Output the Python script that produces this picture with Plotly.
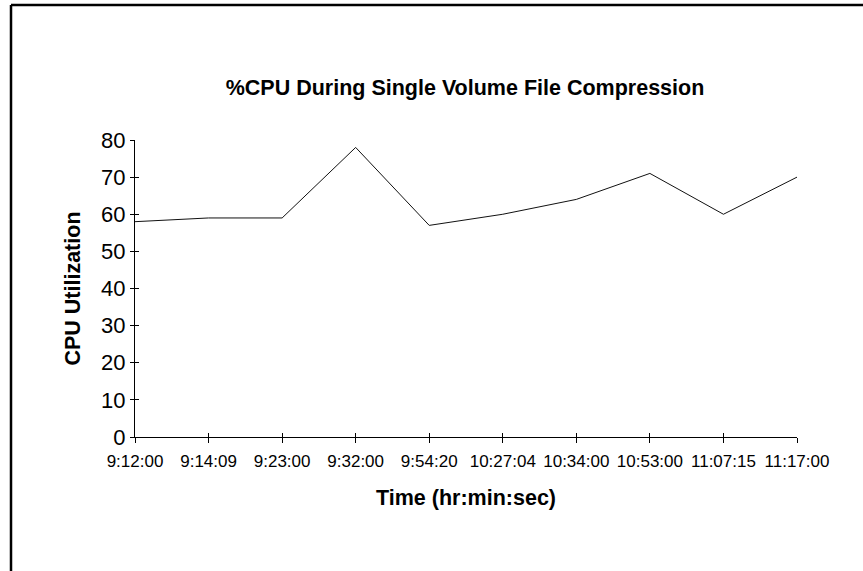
import plotly.graph_objects as go

times = ["9:12:00", "9:14:09", "9:23:00", "9:32:00", "9:54:20",
         "10:27:04", "10:34:00", "10:53:00", "11:07:15", "11:17:00"]
cpu = [58, 59, 59, 78, 57, 60, 64, 71, 60, 70]
y_ticks = [0, 10, 20, 30, 40, 50, 60, 70, 80]

W, H = 863, 571
L, R, T, B = 135, 797, 140, 437

def px_to_paper_x(px):
    return (px - L) / (R - L)

def px_to_paper_y(py):
    return (B - py) / (B - T)

FONT = "Liberation Sans, Arial, sans-serif"

fig = go.Figure()
fig.add_trace(go.Scatter(x=list(range(len(times))), y=cpu, mode="lines",
                         line=dict(color="#111111", width=1), showlegend=False,
                         hoverinfo="skip"))
# invisible trace on overlay axes for inside tick marks
fig.add_trace(go.Scatter(x=list(range(len(times))), y=cpu, mode="lines",
                         line=dict(color="rgba(0,0,0,0)", width=0), showlegend=False,
                         xaxis="x2", yaxis="y2", hoverinfo="skip"))

fig.update_layout(
    width=W, height=H,
    margin=dict(l=L, r=W - R, t=T, b=H - B),
    paper_bgcolor="white", plot_bgcolor="white",
    font=dict(family=FONT, color="black"),
    title=dict(text="<b>%CPU During Single Volume File Compression</b>",
               font=dict(size=21.5, family=FONT, color="black"),
               x=px_to_paper_x(465), xref="paper", xanchor="center",
               y=1 - 87 / H, yref="container", yanchor="middle"),
    xaxis=dict(range=[0, len(times) - 1], tickmode="array",
               tickvals=list(range(len(times))), ticktext=times,
               showgrid=False, zeroline=False, showline=True, linecolor="black",
               linewidth=1, ticks="outside", ticklen=5, tickcolor="black",
               ticklabelstandoff=4,
               tickfont=dict(size=17, family=FONT, color="black"),
               title=dict(text="<b>Time (hr:min:sec)</b>",
                          font=dict(size=21.5, family=FONT, color="black"),
                          standoff=19)),
    yaxis=dict(range=[0, 80], tickmode="array", tickvals=y_ticks,
               showgrid=False, zeroline=False, showline=True, linecolor="black",
               linewidth=1, ticks="outside", ticklen=4, tickcolor="black",
               tickfont=dict(size=22, family=FONT, color="black"),
               title=dict(text="<b>CPU Utilization</b>",
                          font=dict(size=21.5, family=FONT, color="black"),
                          standoff=14)),
    xaxis2=dict(overlaying="x", range=[0, len(times) - 1], tickmode="array",
                tickvals=list(range(len(times))), showticklabels=False,
                showgrid=False, zeroline=False, showline=False,
                ticks="inside", ticklen=4, tickcolor="black", side="bottom"),
    yaxis2=dict(overlaying="y", range=[0, 80], tickmode="array", tickvals=y_ticks,
                showticklabels=False, showgrid=False, zeroline=False, showline=False,
                ticks="inside", ticklen=4, tickcolor="black", side="left"),
)

# outer frame (extends beyond right and bottom edges)
fig.add_shape(type="line", xref="paper", yref="paper",
              x0=px_to_paper_x(11), y0=px_to_paper_y(5),
              x1=px_to_paper_x(W + 20), y1=px_to_paper_y(5),
              line=dict(color="black", width=2.5))
fig.add_shape(type="line", xref="paper", yref="paper",
              x0=px_to_paper_x(11), y0=px_to_paper_y(5),
              x1=px_to_paper_x(11), y1=px_to_paper_y(H + 20),
              line=dict(color="black", width=2.5))

fig.write_html("out.html", config={"displayModeBar": False},
               post_script="document.body.style.margin='0';document.body.style.overflow='hidden';")
